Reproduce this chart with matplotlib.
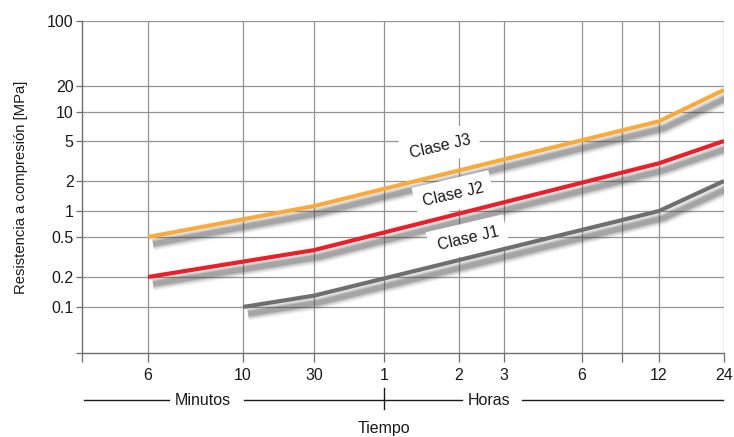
import numpy as np
import matplotlib
matplotlib.use("Agg")
import matplotlib.pyplot as plt
from matplotlib.transforms import offset_copy

plt.rcParams['font.family'] = ['Liberation Sans', 'DejaVu Sans']

# Tiempo en minutos, resistencia en MPa
t_j1 = [10, 30, 720, 1440]
r_j1 = [0.1, 0.13, 1.0, 2.0]
t_j2 = [6, 30, 720, 1440]
r_j2 = [0.2, 0.37, 3.0, 5.0]
t_j3 = [6, 30, 720, 1440]
r_j3 = [0.5, 1.12, 8.0, 18.0]

x_ticks = [6, 10, 30, 60, 120, 180, 360, 540, 720, 1440]
x_labels = ['6', '10', '30', '1', '2', '3', '6', '', '12', '24']
y_ticks = [0.1, 0.2, 0.5, 1, 2, 5, 10, 20, 100]
y_labels = ['0.1', '0.2', '0.5', '1', '2', '5', '10', '20', '100']

# Escalas no uniformes del diagrama original (tramos en log10)
x_nodes = np.log10([3, 6, 10, 30, 60, 120, 180, 360, 540, 720, 1440])
x_pos = np.array([0, 66, 161, 232, 302, 377, 422, 500, 540, 577, 642], float)
y_nodes = np.log10([0.033, 0.1, 0.2, 0.5, 1, 2, 5, 10, 20, 100])
y_pos = np.array([0, 46, 76, 116, 142, 172, 212, 241, 267, 332], float)


def piecewise(nodes, pos):
    def fwd(v):
        v = np.clip(np.asarray(v, float), 1e-9, None)
        return np.interp(np.log10(v), nodes, pos)

    def inv(p):
        return 10 ** np.interp(np.asarray(p, float), pos, nodes)
    return fwd, inv


fig = plt.figure(figsize=(7.34, 4.37), dpi=100)
ax = fig.add_axes([82 / 734, 1 - 353 / 437, 642 / 734, 332 / 437])
ax.set_xscale('function', functions=piecewise(x_nodes, x_pos))
ax.set_yscale('function', functions=piecewise(y_nodes, y_pos))
ax.set_xlim(3, 1440)
ax.set_ylim(0.033, 100)

grid_c = '#939393'
for xv in x_ticks:
    ax.axvline(xv, color=grid_c, lw=0.9, zorder=1)
for yv in y_ticks:
    ax.axhline(yv, color=grid_c, lw=0.9, zorder=1)

for s in ['top', 'right']:
    ax.spines[s].set_visible(False)
for s in ['left', 'bottom']:
    ax.spines[s].set_color('#6e6e6e')
    ax.spines[s].set_linewidth(1.0)

txt_c = '#1a1a1a'
fs = 11.5
ax.set_xticks([3] + x_ticks)
ax.set_xticklabels([''] + x_labels)
ax.set_yticks([0.033] + y_ticks)
ax.set_yticklabels([''] + y_labels)
ax.minorticks_off()
ax.tick_params(axis='x', length=6.5, width=0.9, color='#6e6e6e', pad=4,
               labelsize=fs, labelcolor=txt_c)
ax.tick_params(axis='y', length=4, width=0.9, color='#6e6e6e', pad=2,
               labelsize=fs, labelcolor=txt_c)

series = [
    (t_j1, r_j1, '#6f6f71'),
    (t_j2, r_j2, '#e8202a'),
    (t_j3, r_j3, '#f9aa3c'),
]
# sombra difusa desplazada bajo cada curva
shadow_tr = offset_copy(ax.transData, fig=fig, x=3.6, y=-5, units='points')
for t, r, c in series:
    for lw, a in [(10, 0.06), (8, 0.1), (6, 0.15), (4, 0.24)]:
        ax.plot(t, r, color='#3c3c3c', lw=lw, alpha=a, transform=shadow_tr,
                solid_capstyle='butt', zorder=2)
    ax.plot(t, r, color=c, lw=3, solid_capstyle='butt',
            solid_joinstyle='round', zorder=4)

# Etiquetas de las clases
box = dict(facecolor='white', edgecolor='none', pad=6)
for name, tx, ry in [('Clase J3', 101, 4.4), ('Clase J2', 114, 1.47),
                     ('Clase J1', 130, 0.48)]:
    ax.text(tx, ry, name, fontsize=fs, rotation=13, ha='center', va='center',
            color=txt_c, bbox=box, zorder=3)

ax.set_ylabel('Resistencia a compresión [MPa]', fontsize=10.7, color=txt_c,
              labelpad=14)

# Rótulos de unidades bajo el eje X
yl = -0.142
kw = dict(transform=ax.transAxes, clip_on=False, color=txt_c, lw=1.0)
ax.plot([0.003, 0.136], [yl, yl], **kw)
ax.plot([0.252, 0.592], [yl, yl], **kw)
ax.plot([0.686, 0.998], [yl, yl], **kw)
ax.plot([0.470, 0.470], [-0.105, -0.169], **kw)
ax.text(0.188, yl, 'Minutos', transform=ax.transAxes, ha='center',
        va='center', fontsize=fs, color=txt_c)
ax.text(0.634, yl, 'Horas', transform=ax.transAxes, ha='center',
        va='center', fontsize=fs, color=txt_c)
ax.text(0.470, -0.226, 'Tiempo', transform=ax.transAxes, ha='center',
        va='center', fontsize=fs, color=txt_c)

fig.savefig('out.png', dpi=100)
